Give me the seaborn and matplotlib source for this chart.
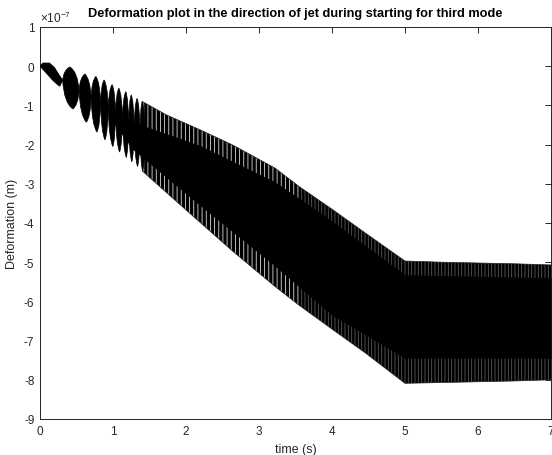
import matplotlib
matplotlib.use("Agg")
import matplotlib.pyplot as plt
import seaborn as sns
from matplotlib.path import Path
from matplotlib.patches import PathPatch, Polygon

# ---------------- data (deformation in units of 1e-7 m) ----------------
# first (leaf shaped) lobe
lobe1_upper_t = [0.0, 0.04, 0.13, 0.20, 0.25, 0.31]
lobe1_upper_v = [0.0, 0.08, 0.08, -0.04, -0.19, -0.36]
lobe1_lower_t = [0.0, 0.08, 0.17, 0.24, 0.27, 0.31]
lobe1_lower_v = [0.0, -0.16, -0.35, -0.47, -0.51, -0.36]

# individual beat lobes: top tip, bottom tip, and the necks between them
lobe_t_top = [0.41, 0.615, 0.765, 0.878, 0.988, 1.08, 1.175, 1.25, 1.33, 1.40]
lobe_v_top = [-0.02, -0.20, -0.26, -0.35, -0.47, -0.56, -0.65, -0.73, -0.82, -0.90]
lobe_t_bot = [0.45, 0.635, 0.78, 0.89, 0.998, 1.09, 1.182, 1.258, 1.336, 1.405]
lobe_v_bot = [-1.09, -1.43, -1.68, -1.88, -2.05, -2.19, -2.33, -2.44, -2.56, -2.67]
neck_t = [0.31, 0.535, 0.70, 0.83, 0.935, 1.035, 1.13, 1.215, 1.29, 1.37, 1.44]
neck_v = [-0.36, -0.62, -0.80, -0.93, -1.06, -1.20, -1.32, -1.44, -1.54, -1.64, -1.74]

# outer envelope of the dense oscillation
band_t = [1.40, 1.73, 2.19, 2.64, 3.22, 3.55, 4.01, 4.46, 5.00, 5.50, 6.00, 6.50, 7.00]
band_upper = [-0.90, -1.24, -1.62, -2.01, -2.60, -3.07, -3.66, -4.26, -4.97, -5.00, -5.02, -5.04, -5.07]
band_lower = [-2.67, -3.22, -3.98, -4.72, -5.62, -6.10, -6.72, -7.32, -8.09, -8.07, -8.05, -8.03, -8.00]

# solid (fully overlapped) core of the oscillation
core_t = [0.95, 1.27, 2.19, 3.22, 4.00, 5.00, 7.00]
core_upper = [-1.15, -1.42, -2.02, -2.95, -3.95, -5.32, -5.40]
core_lower = [-1.30, -2.12, -3.55, -5.10, -6.35, -7.45, -7.45]

x_ticks = [0, 1, 2, 3, 4, 5, 6, 7]
y_ticks = [1, 0, -1, -2, -3, -4, -5, -6, -7, -8, -9]

title = "Deformation plot in the direction of jet during starting for third mode"
xlabel = "time (s)"
ylabel = "Deformation (m)"

# ---------------- styling ----------------
sns.set_theme(style="white")
plt.rcParams["font.family"] = ["Liberation Sans", "DejaVu Sans"]
plt.rcParams["mathtext.fontset"] = "custom"
plt.rcParams["mathtext.rm"] = "Liberation Sans"
plt.rcParams["mathtext.it"] = "Liberation Sans"
plt.rcParams["hatch.linewidth"] = 0.6

fig = plt.figure(figsize=(5.52, 4.56), dpi=100)
fig.patch.set_facecolor("white")
ax = fig.add_axes([40 / 552, 36 / 456, 511 / 552, 392 / 456])
ax.set_facecolor("white")

# dense oscillation: black envelope with light streaks near the edges
ax.fill_between(band_t, band_upper, band_lower, facecolor="black",
                edgecolor="none", linewidth=0, zorder=2)
split = 5  # streaks are clearer in the early part
ax.fill_between(band_t[:split + 1], band_upper[:split + 1], band_lower[:split + 1],
                facecolor="none", edgecolor=(1, 1, 1, 0.85), hatch="||||",
                linewidth=0, zorder=3)
ax.fill_between(band_t[split:], band_upper[split:], band_lower[split:],
                facecolor="none", edgecolor=(1, 1, 1, 0.35), hatch="|||||",
                linewidth=0, zorder=3)
sns.lineplot(x=band_t, y=band_upper, color="#202020", linewidth=0.5, ax=ax, zorder=3)
sns.lineplot(x=band_t, y=band_lower, color="#202020", linewidth=0.5, ax=ax, zorder=3)
ax.fill_between(core_t, core_upper, core_lower, color="black", linewidth=0, zorder=4)

# first leaf lobe
pts = list(zip(lobe1_upper_t, lobe1_upper_v)) + list(zip(lobe1_lower_t, lobe1_lower_v))[::-1]
ax.add_patch(Polygon(pts, closed=True, facecolor="black", edgecolor="black",
                     linewidth=0.6, zorder=5))

# individual lens-shaped lobes (slightly pointed tips)
for i in range(len(lobe_t_top)):
    tl, vl = neck_t[i], neck_v[i]
    tr, vr = neck_t[i + 1], neck_v[i + 1]
    tt, vt = lobe_t_top[i], lobe_v_top[i]
    tb, vb = lobe_t_bot[i], lobe_v_bot[i]
    verts = [(tl, vl),
             (tl + 0.15 * (tt - tl), vl + 0.8 * (vt - vl)), (tt, vt),
             (tr - 0.15 * (tr - tt), vr + 0.8 * (vt - vr)), (tr, vr),
             (tr - 0.15 * (tr - tb), vr + 0.8 * (vb - vr)), (tb, vb),
             (tl + 0.15 * (tb - tl), vl + 0.8 * (vb - vl)), (tl, vl),
             (tl, vl)]
    codes = [Path.MOVETO,
             Path.CURVE3, Path.CURVE3,
             Path.CURVE3, Path.CURVE3,
             Path.CURVE3, Path.CURVE3,
             Path.CURVE3, Path.CURVE3,
             Path.CLOSEPOLY]
    ax.add_patch(PathPatch(Path(verts, codes), facecolor="black",
                           edgecolor="black", linewidth=0.5, zorder=5))

ax.set_xlim(0, 7)
ax.set_ylim(-9, 1)
ax.set_xticks(x_ticks)
ax.set_yticks(y_ticks)
ax.set_xticklabels([str(v) for v in x_ticks])
ax.set_yticklabels([str(v) for v in y_ticks])

axis_col = "#262626"
for s in ax.spines.values():
    s.set_visible(True)
    s.set_color(axis_col)
    s.set_linewidth(0.7)
ax.tick_params(axis="both", which="both", direction="in", length=4, width=0.7,
               colors=axis_col, labelsize=8.5, top=True, right=True,
               labeltop=False, labelright=False, pad=4)

ax.set_title(title, fontsize=9.2, fontweight="bold", color="black", pad=8)
ax.set_xlabel(xlabel, fontsize=8.9, color=axis_col, labelpad=5)
ax.set_ylabel(ylabel, fontsize=9.0, color=axis_col, labelpad=4)
ax.text(0.0, 1.004, r"$\times10^{-7}$", transform=ax.transAxes, ha="left",
        va="bottom", fontsize=8.5, color=axis_col)

fig.savefig("out.png", dpi=100, facecolor="white")
